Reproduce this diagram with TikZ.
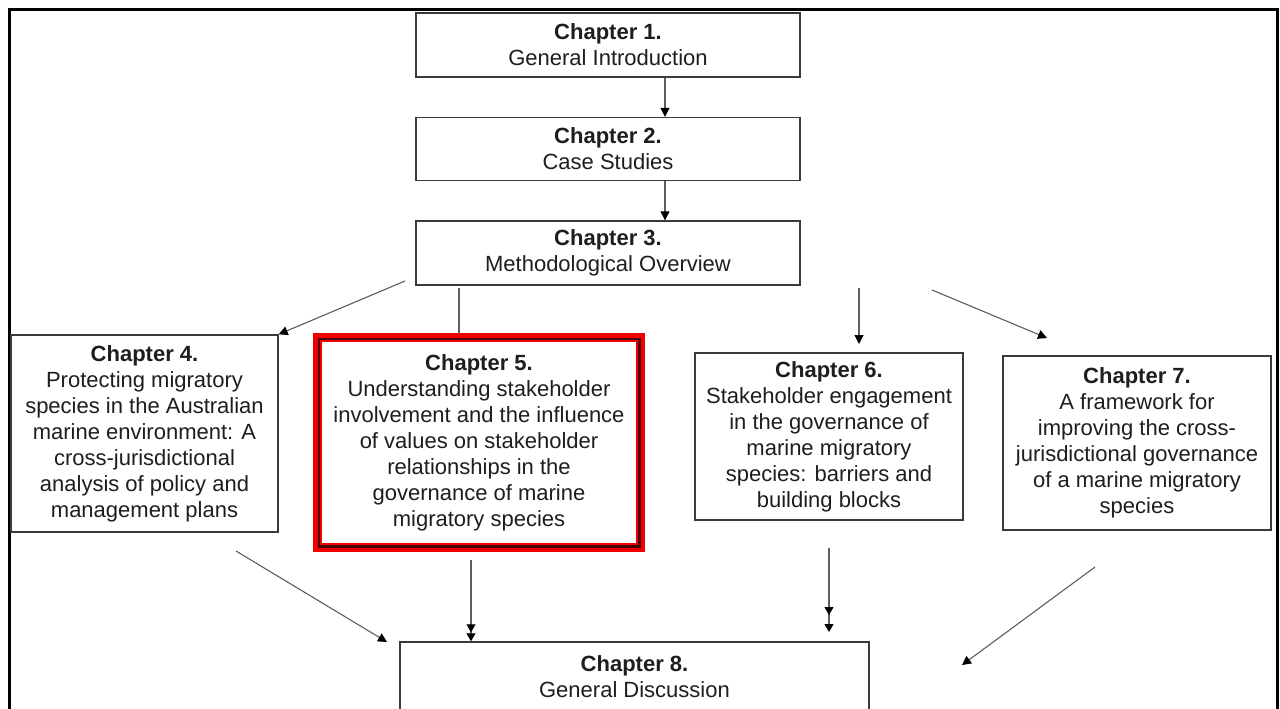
\documentclass[tikz,border=0pt]{standalone}
\usepackage{fontspec}
\setmainfont{Liberation Sans}
\usetikzlibrary{arrows.meta,calc}
\definecolor{txt}{HTML}{1E1E1E}
\definecolor{boxline}{HTML}{3A3A3A}
\definecolor{linkgray}{HTML}{5E5E5E}
\definecolor{hired}{HTML}{F20000}
\definecolor{hidark}{HTML}{4A0505}
\begin{document}
\begin{tikzpicture}[x=1pt,y=-1pt,
  box/.style={draw=boxline, line width=1.4pt, fill=white, inner sep=0pt,
    align=center, text=txt, font=\fontsize{22}{26}\selectfont},
  link/.style={draw=linkgray, line width=1.1pt},
  arr/.style={link, -{Triangle[width=9pt,length=9pt,color=black]}},
  arrtwo/.style={link, -{Triangle[width=9pt,length=8pt,color=black,sep=#1]
    Triangle[width=9pt,length=8pt,color=black,sep=0pt]}},
]
\useasboundingbox (0,0) rectangle (1280,709);

% outer frame (runs past the lower edge)
\draw[line width=3pt, black] (9,10) rectangle (1277,740);

% plain link from chapter 3 into the highlighted chapter 5 box
\coordinate (s35) at (459,288);
\coordinate (e35) at (459,338);
\draw[link] (s35) -- (e35);

% chapter boxes
\node[box, minimum width=384pt, minimum height=64pt] (c1) at (608,45)
  {\textbf{Chapter 1.}\\General Introduction};
\node[box, minimum width=384pt, minimum height=63pt] (c2) at (608,149)
  {\textbf{Chapter 2.}\\Case Studies};
\node[box, minimum width=384pt, minimum height=64pt] (c3) at (608,253)
  {\textbf{Chapter 3.}\\Methodological Overview};
\node[box, minimum width=267pt, minimum height=197pt] (c4) at (144.5,433.5)
  {\textbf{Chapter 4.}\\Protecting migratory\\species in the Australian\\marine environment: A\\cross-jurisdictional\\analysis of policy and\\management plans};
\node[box, draw=hired, line width=9pt, minimum width=323pt, minimum height=210pt] (c5) at (479,442.5)
  {\textbf{Chapter 5.}\\Understanding stakeholder\\involvement and the influence\\of values on stakeholder\\relationships in the\\governance of marine\\migratory species};
\draw[hidark, line width=2.5pt] ($(c5.north west)+(5.75,5.75)$) rectangle ($(c5.south east)+(-5.75,-5.75)$);
\node[box, minimum width=268pt, minimum height=167pt] (c6) at (829,436.5)
  {\textbf{Chapter 6.}\\Stakeholder engagement\\in the governance of\\marine migratory\\species: barriers and\\building blocks};
\node[box, minimum width=268pt, minimum height=174pt] (c7) at (1137,443)
  {\textbf{Chapter 7.}\\A framework for\\improving the cross-\\jurisdictional governance\\of a marine migratory\\species};
\node[box, minimum width=469pt, minimum height=70pt] (c8) at (634.5,677)
  {\textbf{Chapter 8.}\\General Discussion};

% free ends of the connectors
\coordinate (axis) at (665,0);
\coordinate (s34) at (405,281);
\coordinate (s36) at (859,288);
\coordinate (e36) at (859,344);
\coordinate (s37) at (932,290);
\coordinate (e37) at (1047,338);
\coordinate (s48) at (236,551);
\coordinate (e48) at (387,642);
\coordinate (s58) at (471,560);
\coordinate (s68) at (829,548);
\coordinate (e68) at (829,632);
\coordinate (s78) at (1095,567);
\coordinate (e78) at (962,665);

% connectors
\draw[arr] (c1.south -| axis) -- (c2.north -| axis);
\draw[arr] (c2.south -| axis) -- (c3.north -| axis);
\draw[arr] (s34) -- (c4.north east);
\draw[arr] (s36) -- (e36);
\draw[arr] (s37) -- (e37);
\draw[arr] (s48) -- (e48);
\draw[arrtwo=1pt] (s58) -- (s58 |- c8.north);
\draw[arrtwo=9pt] (s68) -- (e68);
\draw[arr] (s78) -- (e78);
\end{tikzpicture}
\end{document}
